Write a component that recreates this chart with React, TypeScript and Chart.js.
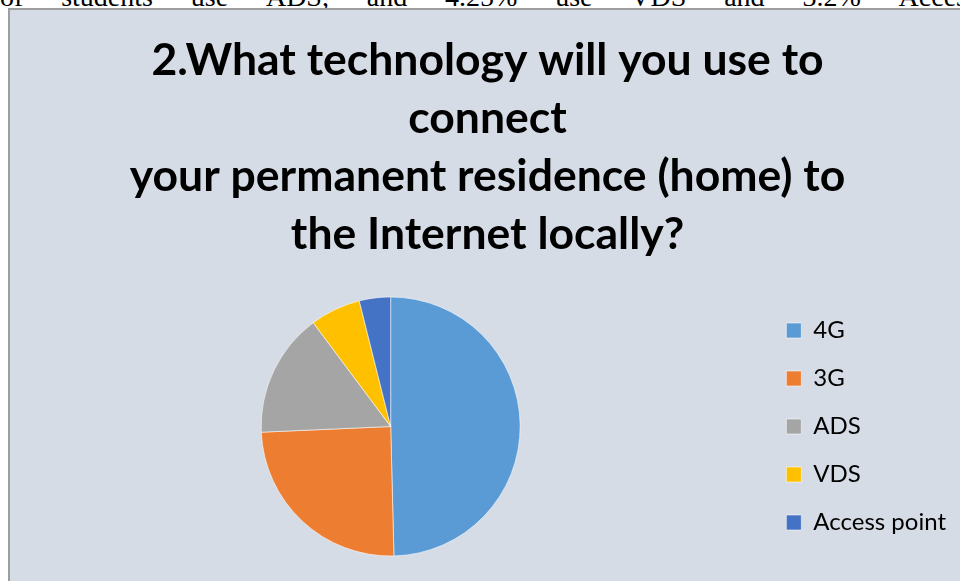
import React, { useEffect, useRef } from "react";
import { Chart, registerables } from "chart.js";

Chart.register(...registerables);

const categories = ["4G", "3G", "ADS", "VDS", "Access point"];
const shares = [49.6, 24.7, 15.5, 6.3, 3.9];
const sliceColors = ["#5B9BD5", "#ED7D31", "#A5A5A5", "#FFC000", "#4472C4"];
const titleLines = [
  "2.What technology will you use to",
  "connect",
  "your permanent residence (home) to",
  "the Internet locally?",
];
const topWords = ["of", "students", "use", "ADS,", "and", "4.25%", "use", "VDS", "and", "3.2%", "Access"];

export default function App() {
  const canvasRef = useRef<HTMLCanvasElement | null>(null);

  useEffect(() => {
    if (!canvasRef.current) return;
    const chart = new Chart(canvasRef.current, {
      type: "pie",
      data: {
        labels: categories,
        datasets: [
          {
            data: shares,
            backgroundColor: sliceColors,
            borderColor: "rgba(255,255,255,0.55)",
            borderWidth: 1,
            radius: 129.5,
          },
        ],
      },
      options: {
        responsive: false,
        animation: false,
        layout: { padding: { left: 19, right: 4, top: 0, bottom: 13 } },
        plugins: {
          tooltip: { enabled: false },
          title: {
            display: true,
            text: titleLines,
            color: "#000",
            font: { family: "Lato", weight: "bold", size: 44.5, lineHeight: 58 / 44.5 },
            padding: { top: 32, bottom: 21 },
          },
          legend: {
            position: "right",
            align: "center",
            fullSize: false,
            labels: {
              color: "#000",
              boxWidth: 15,
              boxHeight: 15,
              padding: 24,
              font: { family: "Lato", size: 24 },
            },
          },
        },
      },
    });
    return () => chart.destroy();
  }, []);

  return (
    <div style={{ position: "absolute", left: 0, top: 0, width: 960, height: 581, overflow: "hidden" }}>
      <div
        style={{
          position: "absolute",
          left: 0,
          top: -19,
          width: 978,
          display: "flex",
          justifyContent: "space-between",
          fontFamily: "'Liberation Serif', 'Times New Roman', serif",
          fontSize: 28,
          color: "#000",
          whiteSpace: "nowrap",
        }}
      >
        {topWords.map((w, i) => (
          <span key={i}>{w}</span>
        ))}
      </div>
      <div
        style={{
          position: "absolute",
          left: 8,
          top: 8,
          width: 1000,
          height: 620,
          background: "#D6DCE5",
          border: "2px solid #9E9E9E",
          boxSizing: "border-box",
        }}
      />
      <canvas
        ref={canvasRef}
        width={960}
        height={581}
        style={{ position: "absolute", left: 0, top: 0, width: 960, height: 581 }}
      />
    </div>
  );
}
